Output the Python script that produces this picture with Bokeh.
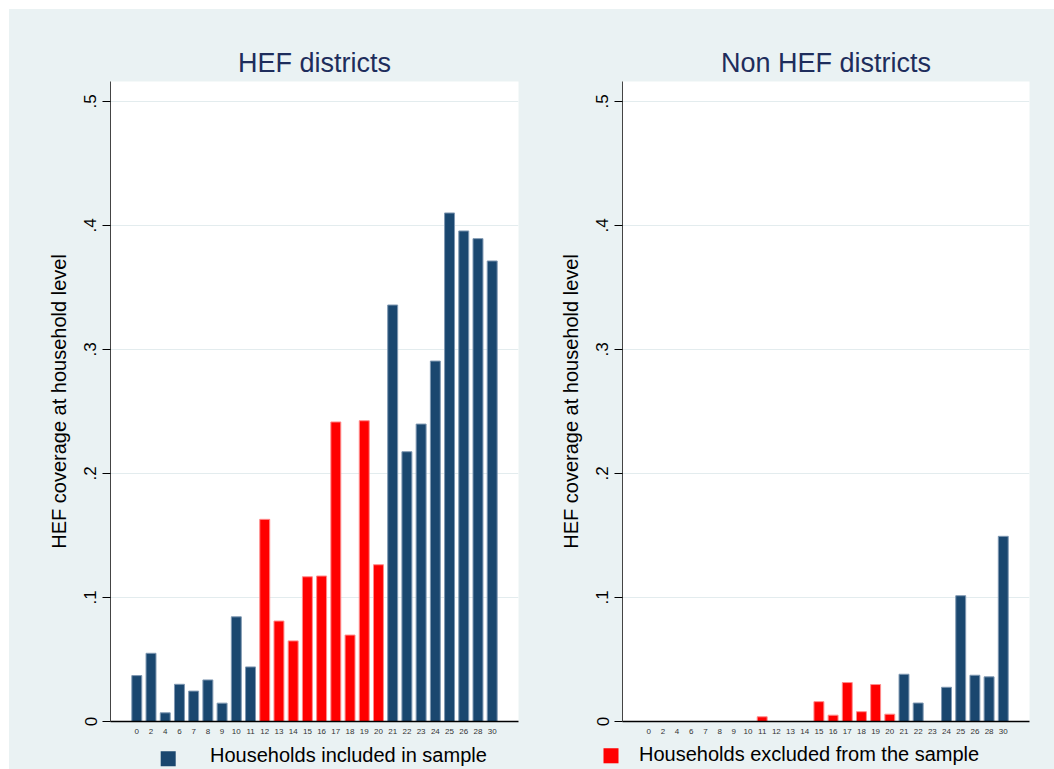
from bokeh.plotting import figure
from bokeh.layouts import column, row
from bokeh.models import (ColumnDataSource, FactorRange, Range1d, FixedTicker,
                          CustomJSTickFormatter)
from bokeh.core.properties import value
from bokeh.embed import file_html
from bokeh.resources import INLINE

# Household HEF coverage by district group
districts = ["0", "2", "4", "6", "7", "8", "9", "10", "11", "12", "13", "14", "15",
             "16", "17", "18", "19", "20", "21", "22", "23", "24", "25", "26", "28", "30"]

hef_coverage = [0.037, 0.055, 0.007, 0.030, 0.0245, 0.0335, 0.0148, 0.0844, 0.044,
                0.163, 0.081, 0.065, 0.1167, 0.1173, 0.2415, 0.0697, 0.2425, 0.1264,
                0.3358, 0.2175, 0.2398, 0.2906, 0.410, 0.3955, 0.3893, 0.3713]
hef_excluded = [False] * 9 + [True] * 9 + [False] * 8

nonhef_coverage = [0, 0, 0, 0, 0, 0, 0, 0, 0.0038,
                   0, 0, 0, 0.016, 0.0051, 0.0314, 0.0079, 0.0298, 0.0059,
                   0.0381, 0.0149, 0, 0.0276, 0.1014, 0.0373, 0.036, 0.1493]
nonhef_excluded = [False] * 8 + [True] * 10 + [False] * 8

panel_titles = ["HEF districts", "Non HEF districts"]
y_label = "HEF coverage at household level"
y_ticks = [0, 0.1, 0.2, 0.3, 0.4, 0.5]
legend_labels = ["Households included in sample", "Households excluded from the sample"]

NAVY = "#1A476F"
RED = "#FF0000"
NAVY_EDGE = "#7F98B2"
RED_EDGE = "#FF8C8C"
BG = "#EAF2F3"
TITLE_COLOR = "#1E2D5C"
FONT = "Liberation Sans"


def panel(title, coverage, excluded, width, border_right):
    src = ColumnDataSource(dict(
        district=districts,
        coverage=coverage,
        fill=[RED if e else NAVY for e in excluded],
        edge=[RED_EDGE if e else NAVY_EDGE for e in excluded],
    ))
    p = figure(
        x_range=FactorRange(factors=districts, range_padding=1.35,
                            range_padding_units="absolute"),
        y_range=Range1d(0, 0.516),
        width=width, height=732,
        min_border_left=101, min_border_right=border_right,
        min_border_top=72, min_border_bottom=20,
        output_backend="svg", toolbar_location=None,
    )
    p.vbar(x="district", top="coverage", width=0.7, source=src,
           fill_color="fill", line_color="edge", line_width=1)

    p.title.text = title
    p.title.align = "center"
    p.title.text_font = FONT
    p.title.text_font_size = "27px"
    p.title.text_font_style = "normal"
    p.title.text_color = TITLE_COLOR
    p.title.standoff = 7

    p.background_fill_color = "white"
    p.border_fill_color = BG
    p.outline_line_color = None

    yax = p.yaxis[0]
    yax.ticker = FixedTicker(ticks=y_ticks)
    yax.formatter = CustomJSTickFormatter(
        code="return tick == 0 ? '0' : tick.toFixed(1).replace(/^0/, '');")
    yax.major_label_orientation = "vertical"
    yax.major_label_text_font = FONT
    yax.major_label_text_font_size = "17px"
    yax.major_label_text_color = "black"
    yax.major_label_standoff = 6
    yax.major_tick_out = 8
    yax.major_tick_in = 0
    yax.minor_tick_out = 0
    yax.minor_tick_in = 0
    yax.major_tick_line_color = "black"
    yax.axis_line_color = "#444444"
    yax.axis_label = y_label
    yax.axis_label_text_font = FONT
    yax.axis_label_text_font_size = "20px"
    yax.axis_label_text_font_style = "normal"
    yax.axis_label_text_color = "black"
    yax.axis_label_standoff = 12

    xax = p.xaxis[0]
    xax.major_tick_out = 0
    xax.major_tick_in = 0
    xax.major_label_text_font = FONT
    xax.major_label_text_font_size = "8px"
    xax.major_label_text_color = "#333333"
    xax.major_label_standoff = 7
    xax.axis_line_color = "black"
    xax.axis_line_width = 1.5

    p.xgrid.visible = False
    p.ygrid.grid_line_color = "#E3ECEE"
    p.ygrid.grid_line_width = 1
    return p


left = panel(panel_titles[0], hef_coverage, hef_excluded, 512, 3)
right = panel(panel_titles[1], nonhef_coverage, nonhef_excluded, 533, 25)

# Legend strip under both panels
leg = figure(width=1045, height=28, x_range=Range1d(0, 1045), y_range=Range1d(28, 0),
             min_border=0, output_backend="svg", toolbar_location=None)
leg.axis.visible = False
leg.grid.visible = False
leg.outline_line_color = None
leg.background_fill_color = BG
leg.border_fill_color = BG
leg_src = ColumnDataSource(dict(
    sx=[158.7, 601.5], sy=[17.3, 14.3],
    tx=[200.5, 629.5], ty=[13.5, 12.2],
    color=[NAVY, RED], label=legend_labels,
))
leg.scatter(x="sx", y="sy", marker="square", size=15, fill_color="color",
            line_color=None, source=leg_src)
leg.text(x="tx", y="ty", text="label", source=leg_src, text_font=value(FONT),
         text_font_size="20px", text_baseline="alphabetic", text_color="black")

panels = row(left, right, spacing=0, styles={"background-color": BG})
page = column(panels, leg, spacing=0, margin=(9, 0, 0, 9),
              styles={"background-color": BG})

open("out.html", "w").write(file_html(page, INLINE))
